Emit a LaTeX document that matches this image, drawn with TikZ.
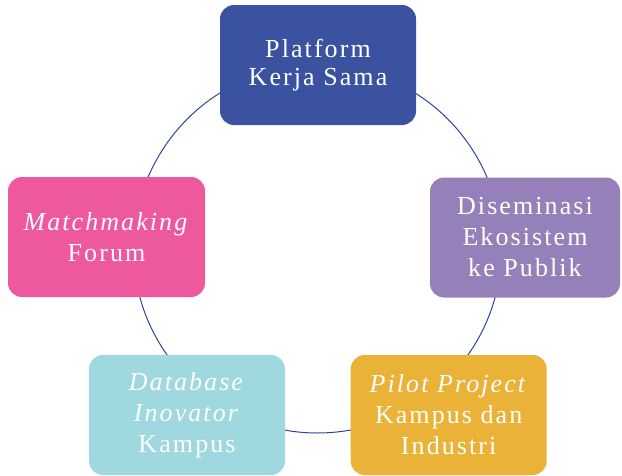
\documentclass[tikz,border=0pt]{standalone}
\usepackage{fontspec}
\setmainfont{Liberation Serif}[LetterSpace=8]
\usetikzlibrary{backgrounds,positioning}

\definecolor{kBlue}{RGB}{58,82,160}
\definecolor{kPurple}{RGB}{150,128,186}
\definecolor{kPink}{RGB}{238,88,157}
\definecolor{kCyan}{RGB}{159,216,223}
\definecolor{kGold}{RGB}{235,178,56}
\definecolor{kLine}{RGB}{46,69,160}

\begin{document}
\begin{tikzpicture}[x=1pt,y=-1pt,
    box/.style={rectangle,rounded corners=14pt,draw=none,text=white,align=center,
      minimum width=196pt,minimum height=120pt,inner sep=0pt,
      font=\fontsize{26}{31}\selectfont},
    ring/.style={circle,draw=kLine,line width=1pt,minimum size=368pt,inner sep=0pt}]
    \useasboundingbox (0,0) rectangle (622,475);
    \node[box,fill=kBlue,font=\fontsize{26}{28.5}\selectfont] (platform) at (318,65) {Platform\\Kerja Sama};
    \node[box,fill=kPurple,minimum width=190pt] (diseminasi) at (525,237.5) {Diseminasi\\Ekosistem\\ ke Publik};
    \node[box,fill=kGold] (pilot) at (448.7,415) {\textit{Pilot Project}\\Kampus dan\\Industri};
    \node[box,fill=kCyan] (database) at (187,415) {\textit{Database}\\\textit{Inovator}\\Kampus};
    \node[box,fill=kPink,minimum width=197pt] (matchmaking) at (106.5,237) {\textit{Matchmaking}\\Forum};
    \begin{scope}[on background layer]
    \node[ring] (cycle) at (317.5,249) {};
    \end{scope}
\end{tikzpicture}
\end{document}
